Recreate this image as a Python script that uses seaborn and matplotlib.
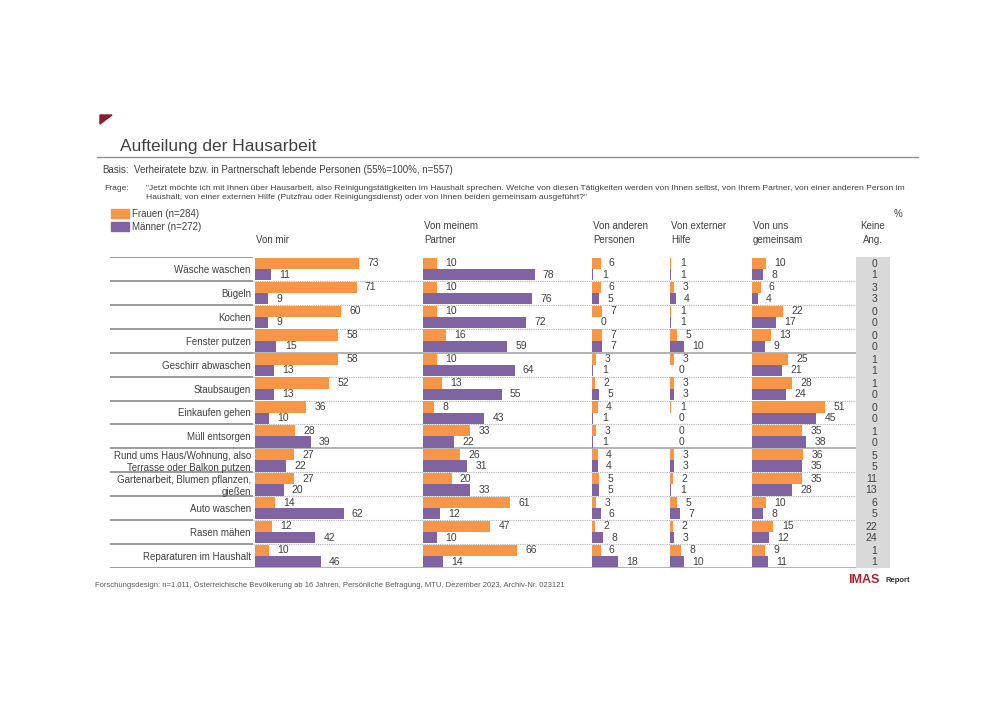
import pandas as pd
import matplotlib.pyplot as plt
import seaborn as sns
from matplotlib.patches import Patch, Polygon
from matplotlib.lines import Line2D

# Daten
kategorien = ["Wäsche waschen", "Bügeln", "Kochen", "Fenster putzen", "Geschirr abwaschen",
              "Staubsaugen", "Einkaufen gehen", "Müll entsorgen",
              "Rund ums Haus/Wohnung, also\nTerrasse oder Balkon putzen",
              "Gartenarbeit, Blumen pflanzen,\ngießen", "Auto waschen", "Rasen mähen",
              "Reparaturen im Haushalt"]

von_mir_f = [73, 71, 60, 58, 58, 52, 36, 28, 27, 27, 14, 12, 10]
von_mir_m = [11, 9, 9, 15, 13, 13, 10, 39, 22, 20, 62, 42, 46]
partner_f = [10, 10, 10, 16, 10, 13, 8, 33, 26, 20, 61, 47, 66]
partner_m = [78, 76, 72, 59, 64, 55, 43, 22, 31, 33, 12, 10, 14]
andere_f = [6, 6, 7, 7, 3, 2, 4, 3, 4, 5, 3, 2, 6]
andere_m = [1, 5, 0, 7, 1, 5, 1, 1, 4, 5, 6, 8, 18]
extern_f = [1, 3, 1, 5, 3, 3, 1, 0, 3, 2, 5, 2, 8]
extern_m = [1, 4, 1, 10, 0, 3, 0, 0, 3, 1, 7, 3, 10]
gemeinsam_f = [10, 6, 22, 13, 25, 28, 51, 35, 36, 35, 10, 15, 9]
gemeinsam_m = [8, 4, 17, 9, 21, 24, 45, 38, 35, 28, 8, 12, 11]
keine_f = [0, 3, 0, 0, 1, 1, 0, 1, 5, 11, 6, 22, 1]
keine_m = [1, 3, 0, 0, 1, 0, 0, 0, 5, 13, 5, 24, 1]

gruppen = ["Frauen (n=284)", "Männer (n=272)"]
farben = {"Frauen (n=284)": "#F79646", "Männer (n=272)": "#8064A2"}

spalten = {
    "Von mir": (von_mir_f, von_mir_m),
    "Von meinem\nPartner": (partner_f, partner_m),
    "Von anderen\nPersonen": (andere_f, andere_m),
    "Von externer\nHilfe": (extern_f, extern_m),
    "Von uns\ngemeinsam": (gemeinsam_f, gemeinsam_m),
}

sns.set_theme(style="white")
plt.rcParams["font.family"] = ["Liberation Sans", "DejaVu Sans"]
grau = "#404040"

fig = plt.figure(figsize=(10, 7.07), dpi=100)


def fx(px):
    return px / 1000


def fy(py):
    return 1 - py / 707


top, bottom = 257, 568
ax_y = fy(bottom)
ax_h = (bottom - top) / 707
px_per_pct = 1.43
n = len(kategorien)

# Hintergrund mit Trennlinien
bg = fig.add_axes([fx(110), ax_y, fx(780), ax_h], zorder=0)
bg.set_xlim(110, 890)
bg.set_ylim(n - 0.5, -0.5)
bg.axis("off")
for b in [i - 0.5 for i in range(n + 1)]:
    bg.hlines(b, 110, 253, color="#808080", lw=1.1)
    if b == -0.5:
        continue
    if b in (3.5, 7.5, n - 0.5):
        bg.hlines(b, 253, 890, color="#a6a6a6", lw=1.2)
    else:
        bg.hlines(b, 253, 890, color="#b0b0b0", lw=0.8, linestyles=(0, (1, 1)))

# Balken-Panels
positionen = [(255, 160), (423, 160), (592, 72), (670, 78), (752, 100)]
for (name, (werte_f, werte_m)), (left, width) in zip(spalten.items(), positionen):
    df = pd.DataFrame({
        "Kategorie": kategorien * 2,
        "Wert": werte_f + werte_m,
        "Gruppe": [gruppen[0]] * n + [gruppen[1]] * n,
    })
    ax = fig.add_axes([fx(left), ax_y, fx(width), ax_h], zorder=2)
    ax.patch.set_alpha(0)
    sns.barplot(data=df, y="Kategorie", x="Wert", hue="Gruppe", orient="h",
                palette=farben, saturation=1, width=0.94, linewidth=0, legend=False, ax=ax)
    ax.set_xlim(0, width / px_per_pct)
    ax.set_ylim(n - 0.5, -0.5)
    for cont in ax.containers:
        ax.bar_label(cont, fmt="%d", padding=6, fontsize=7.5, color=grau)
    ax.set_xticks([])
    ax.set_xlabel("")
    ax.set_ylabel("")
    for s in ax.spines.values():
        s.set_visible(False)
    ax.tick_params(axis="y", length=0, pad=3, labelsize=7, labelcolor=grau)
    if left != 255:
        ax.set_yticklabels([])
    fig.text(fx(left + 1), fy(245), name, fontsize=7, color=grau, va="bottom",
             linespacing=1.5)

# Keine Angabe
axk = fig.add_axes([fx(856), ax_y, fx(34), ax_h], zorder=1)
axk.set_facecolor("#d9d9d9")
axk.set_xlim(0, 1)
axk.set_ylim(n - 0.5, -0.5)
axk.set_xticks([])
axk.set_yticks([])
for s in axk.spines.values():
    s.set_visible(False)
for i in range(n):
    axk.text(0.62, i - 0.2, str(keine_f[i]), ha="right", va="center", fontsize=7.5, color=grau)
    axk.text(0.62, i + 0.26, str(keine_m[i]), ha="right", va="center", fontsize=7.5, color=grau)
fig.text(fx(873), fy(245), "Keine\nAng.", fontsize=7, color=grau, ha="center", va="bottom",
         linespacing=1.5)
fig.text(fx(898), fy(214), "%", fontsize=7, color=grau, ha="center", va="center")

# Titel und Texte
fig.add_artist(Polygon([[fx(100), fy(115)], [fx(112), fy(115)], [fx(100), fy(124)]],
                       closed=True, transform=fig.transFigure, color="#8b1a2c"))
fig.text(fx(120), fy(147), "Aufteilung der Hausarbeit", fontsize=12.5, color=grau, va="center")
fig.add_artist(Line2D([fx(97), fx(918)], [fy(157), fy(157)], color="#909090", lw=1))
fig.text(fx(102), fy(170), "Basis:", fontsize=7, color=grau, va="center")
fig.text(fx(134), fy(170), "Verheiratete bzw. in Partnerschaft lebende Personen (55%=100%, n=557)",
         fontsize=7, color=grau, va="center")
fig.text(fx(104), fy(188), "Frage:", fontsize=6.1, color=grau, va="center")
fig.text(fx(146), fy(193),
         "\"Jetzt möchte ich mit Ihnen über Hausarbeit, also Reinigungstätigkeiten im Haushalt sprechen. "
         "Welche von diesen Tätigkeiten werden von Ihnen selbst, von Ihrem Partner, von einer anderen Person im\n"
         "Haushalt, von einer externen Hilfe (Putzfrau oder Reinigungsdienst) oder von Ihnen beiden gemeinsam ausgeführt?\"",
         fontsize=6.1, color=grau, va="center", linespacing=1.5)

handles = [Patch(color=farben[g]) for g in gruppen]
fig.legend(handles, gruppen, loc="upper left", bbox_to_anchor=(fx(111), fy(209)), frameon=False,
           fontsize=7, handlelength=1.9, handleheight=0.95, labelspacing=0.3, handletextpad=0.3,
           borderaxespad=0, borderpad=0, labelcolor=grau)

fig.text(fx(95), fy(585),
         "Forschungsdesign: n=1.011, Österreichische Bevölkerung ab 16 Jahren, Persönliche Befragung, "
         "MTU, Dezember 2023, Archiv-Nr. 023121", fontsize=5.5, color="#595959", va="center")
fig.text(fx(848), fy(580), "IMAS", fontsize=9, fontweight="bold", color="#b0202e", va="center")
fig.text(fx(886), fy(581), "Report", fontsize=5.5, fontweight="bold", color="#303030", va="center")

fig.savefig("out.png", dpi=100)
